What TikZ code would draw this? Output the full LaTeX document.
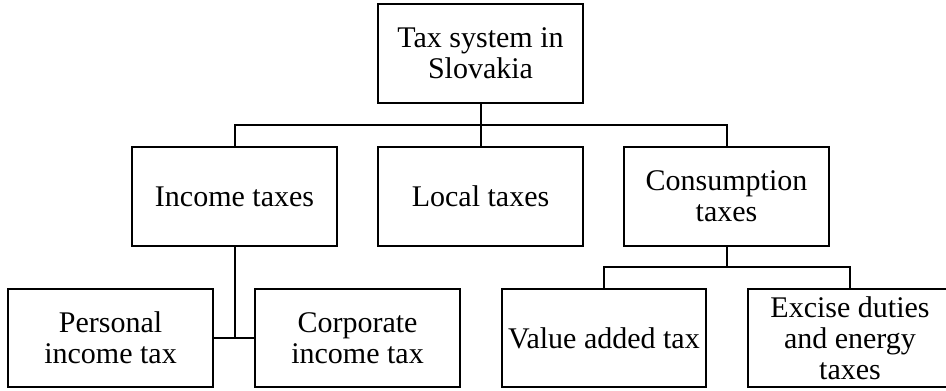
\documentclass[tikz,border=0pt]{standalone}
\usepackage{fontspec}
\setmainfont{Liberation Serif}
\begin{document}
\begin{tikzpicture}[x=1pt,y=-1pt,
  box/.style={draw, line width=2pt, minimum width=205pt, minimum height=99pt, inner sep=0pt, align=center,
    font=\fontsize{30}{31}\selectfont},
  conn/.style={line width=2pt}]
\clip (0,0) rectangle (946,391);
\fill[white] (0,0) rectangle (946,391);
\node[box] (top) at (480.5,53.5) {Tax system in\\Slovakia};
\node[box] (inc) at (234.5,196.5) {Income taxes};
\node[box] (loc) at (480.5,196.5) {Local taxes};
\node[box] (con) at (726.5,196.5) {Consumption\\taxes};
\node[box, minimum height=98pt] (per) at (110.5,338) {Personal\\income tax};
\node[box, minimum height=98pt] (cor) at (357.5,338) {Corporate\\income tax};
\node[box, minimum height=98pt, minimum width=204pt] (vat) at (604,338) {Value added tax};
\node[box, minimum height=98pt, minimum width=204pt] (exc) at (850,338) {Excise duties\\and energy\\taxes};
\coordinate (j1) at (480.5,125);
\coordinate (j2) at (726.5,267);
\coordinate (j3) at (234.5,338);
\draw[conn] (top.south) -- (j1);
\draw[conn] (j1) -- (loc.north);
\draw[conn] (inc.north) |- (j1) -| (con.north);
\draw[conn] (inc.south) -- (j3);
\draw[conn] (per.east) -- (cor.west);
\draw[conn] (con.south) -- (j2);
\draw[conn] (vat.north) |- (j2) -| (exc.north);
\end{tikzpicture}
\end{document}
